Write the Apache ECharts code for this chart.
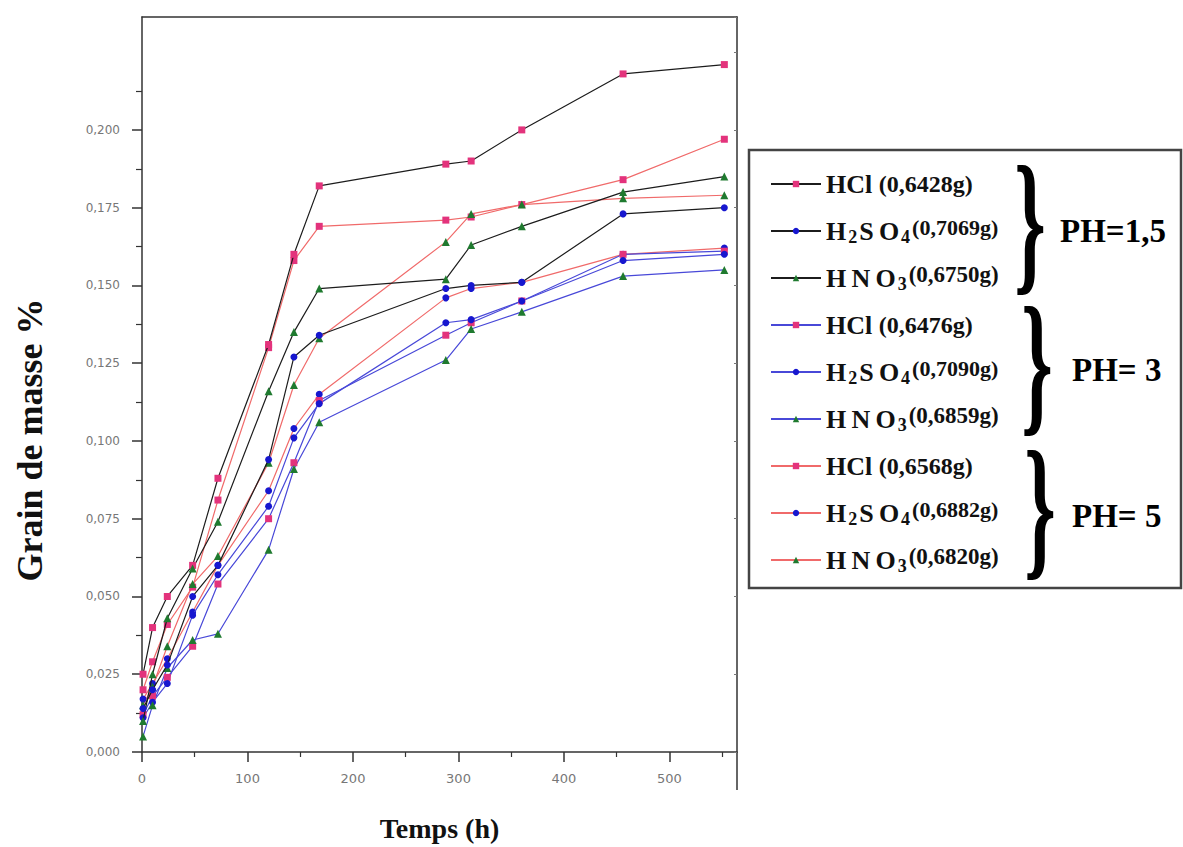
<!DOCTYPE html>
<html><head><meta charset="utf-8">
<script src="https://cdn.jsdelivr.net/npm/echarts@6/dist/echarts.min.js"></script>
<style>html,body{margin:0;padding:0;background:#fff}#c{width:1183px;height:847px}</style>
</head><body><div id="c"></div>
<script>
// time points (h)
const times = [1, 10, 24, 48, 72, 120, 144, 168, 288, 312, 360, 456, 552];
// pH = 1,5
const hcl15   = [0.025, 0.040, 0.050, 0.060, 0.088, 0.131, 0.160, 0.182, 0.189, 0.190, 0.200, 0.218, 0.221];
const h2so415 = [0.014, 0.020, 0.028, 0.050, 0.060, 0.094, 0.127, 0.134, 0.149, 0.150, 0.151, 0.173, 0.175];
const hno315  = [0.010, 0.025, 0.043, 0.059, 0.074, 0.116, 0.135, 0.149, 0.152, 0.163, 0.169, 0.180, 0.185];
// pH = 3
const hcl3    = [0.012, 0.018, 0.024, 0.034, 0.054, 0.075, 0.093, 0.113, 0.134, 0.138, 0.145, 0.160, 0.161];
const h2so43  = [0.011, 0.016, 0.022, 0.044, 0.057, 0.079, 0.101, 0.112, 0.138, 0.139, 0.145, 0.158, 0.160];
const hno33   = [0.005, 0.015, 0.027, 0.036, 0.038, 0.065, 0.091, 0.106, 0.126, 0.136, 0.1415, 0.153, 0.155];
// pH = 5
const hcl5    = [0.020, 0.029, 0.041, 0.053, 0.081, 0.130, 0.158, 0.169, 0.171, 0.172, 0.176, 0.184, 0.197];
const h2so45  = [0.017, 0.022, 0.030, 0.045, 0.060, 0.084, 0.104, 0.115, 0.146, 0.149, 0.151, 0.160, 0.162];
const hno35   = [0.015, 0.021, 0.034, 0.054, 0.063, 0.093, 0.118, 0.133, 0.164, 0.173, 0.176, 0.178, 0.179];

const acids  = ['HCl', 'H2SO4', 'HNO3'];
const masses = ['0,6428g', '0,7069g', '0,6750g', '0,6476g', '0,7090g', '0,6859g', '0,6568g', '0,6882g', '0,6820g'];
const phLabels = ['PH=1,5', 'PH= 3', 'PH= 5'];
// tick labels
const xTicks = [0, 100, 200, 300, 400, 500];
const xMinorTicks = [50, 150, 250, 350, 450, 550];
const yTicks = [0, 0.025, 0.05, 0.075, 0.1, 0.125, 0.15, 0.175, 0.2];
const yMinorTicks = [0.0125, 0.0375, 0.0625, 0.0875, 0.1125, 0.1375, 0.1625, 0.1875, 0.2125];

const allData = [hcl15, h2so415, hno315, hcl3, h2so43, hno33, hcl5, h2so45, hno35];

const LINE_COLORS = ['#1c1c1c', '#4848d8', '#f06a6a'];
const MARKER = {
  'HCl':   { symbol: 'rect',     size: 7, color: '#e3337c' },
  'H2SO4': { symbol: 'circle',   size: 7, color: '#1717cf' },
  'HNO3':  { symbol: 'triangle', size: 8, color: '#1f7a2f' }
};

const SERIF = '"Liberation Serif", "Times New Roman", serif';
const SANS = '"DejaVu Sans", Arial, sans-serif';
const names = [];
const info = {};
const series = allData.map((vals, k) => {
  const acid = acids[k % 3];
  const grp = Math.floor(k / 3);
  const mass = masses[k];
  const name = acid + ' (' + mass + ')';
  names.push(name);
  info[name] = { acid, mass };
  const m = MARKER[acid];
  return {
    name, type: 'line',
    data: times.map((t, i) => [t, vals[i]]),
    symbol: m.symbol, symbolSize: m.size,
    showAllSymbol: true,
    lineStyle: { color: LINE_COLORS[grp], width: 1.2 },
    itemStyle: { color: m.color },
    emphasis: { disabled: true },
    z: 3 + (2 - grp)
  };
});

const TS = '\u2009';
function legendFmt(name) {
  const { acid, mass } = info[name];
  if (acid === 'HCl') return '{b|HCl} {p|(' + mass + ')}';
  if (acid === 'H2SO4') return '{b|H}{sub|2}{b|S' + TS + 'O}{sub|4}{sup|(' + mass + ')}';
  return '{b|H' + TS + 'N' + TS + 'O}{sub|3}{p2|(' + mass + ')}';
}

const chart = echarts.init(document.getElementById('c'), null, { renderer: 'svg' });

const axisColor = '#333';
const yFmt = v => v.toFixed(3).replace('.', ',');
const xFmt = v => String(Math.round(v));

const braceStyle = { font: 'bold 80px ' + SERIF, fill: '#000', textAlign: 'center', textVerticalAlign: 'middle' };
const phStyle = { font: 'bold 33px ' + SERIF, fill: '#000', textAlign: 'left', textVerticalAlign: 'middle' };
const XMAX = 564, YMAX = 0.2363;

chart.setOption({
  animation: false,
  backgroundColor: '#fff',
  grid: { left: 142, top: 17, right: 446, bottom: 95, containLabel: false },
  xAxis: [{
    type: 'value', min: 0, max: XMAX, interval: 100, position: 'bottom',
    name: 'Temps (h)', nameLocation: 'middle', nameGap: 62,
    nameTextStyle: { fontFamily: SERIF, fontWeight: 'bold', fontSize: 28, color: '#111' },
    axisLine: { show: true, onZero: false, lineStyle: { color: axisColor, width: 1.5 } },
    axisTick: { show: true, length: 10, inside: false, customValues: xTicks, lineStyle: { color: axisColor, width: 1.5 } },
    axisLabel: { customValues: xTicks, formatter: xFmt, margin: 20, fontSize: 13, color: '#777', fontFamily: SANS },
    splitLine: { show: false }
  }, {
    type: 'value', min: 0, max: XMAX, position: 'bottom',
    axisLine: { show: false, onZero: false },
    axisTick: { show: true, length: 5, inside: false, customValues: xMinorTicks, lineStyle: { color: axisColor, width: 1.2 } },
    axisLabel: { show: false }, splitLine: { show: false }
  }, {
    type: 'value', min: 0, max: XMAX, position: 'top',
    axisLine: { show: true, onZero: false, lineStyle: { color: axisColor, width: 1.5 } },
    axisTick: { show: false }, axisLabel: { show: false }, splitLine: { show: false }
  }],
  yAxis: [{
    type: 'value', min: 0, max: YMAX, interval: 0.025, position: 'left',
    axisLine: { show: true, onZero: false, lineStyle: { color: axisColor, width: 1.5 } },
    axisTick: { show: true, length: 10, inside: false, customValues: yTicks, lineStyle: { color: axisColor, width: 1.5 } },
    axisLabel: { customValues: yTicks, formatter: yFmt, margin: 22, fontSize: 12, color: '#777', fontFamily: SANS },
    splitLine: { show: false }
  }, {
    type: 'value', min: 0, max: YMAX, position: 'left',
    axisLine: { show: false, onZero: false },
    axisTick: { show: true, length: 6, inside: false, customValues: yMinorTicks, lineStyle: { color: axisColor, width: 1.2 } },
    axisLabel: { show: false }, splitLine: { show: false }
  }, {
    type: 'value', min: 0, max: YMAX, interval: 0.025, position: 'right',
    axisLine: { show: true, onZero: false, lineStyle: { color: axisColor, width: 1.5 } },
    axisTick: { show: true, inside: true, length: 3, lineStyle: { color: '#777', width: 1 } },
    axisLabel: { show: false }, splitLine: { show: false }
  }],
  legend: {
    orient: 'vertical', left: 765, top: 164,
    itemWidth: 50, itemHeight: 8, itemGap: 17,
    selectedMode: false,
    data: names,
    formatter: legendFmt,
    textStyle: {
      color: '#111', fontFamily: SERIF, fontWeight: 'bold', fontSize: 26, lineHeight: 30,
      rich: {
        b:   { fontFamily: SERIF, fontWeight: 'bold', fontSize: 26, lineHeight: 30, color: '#111' },
        p:   { fontFamily: SERIF, fontWeight: 'bold', fontSize: 24, lineHeight: 30, color: '#111' },
        p2:  { fontFamily: SERIF, fontWeight: 'bold', fontSize: 23, lineHeight: 25, verticalAlign: 'top', color: '#111' },
        sub: { fontFamily: SERIF, fontWeight: 'bold', fontSize: 18, lineHeight: 17, verticalAlign: 'bottom', color: '#111', padding: [0, 2, 0, 2] },
        sup: { fontFamily: SERIF, fontWeight: 'bold', fontSize: 22, lineHeight: 21, verticalAlign: 'top', color: '#111' }
      }
    }
  },
  graphic: { elements: [
    { type: 'rect', shape: { x: 749, y: 150, width: 432, height: 438 }, style: { fill: 'none', stroke: '#444', lineWidth: 2.5 }, z: 1 },
    { type: 'line', shape: { x1: 737, y1: 752, x2: 737, y2: 790 }, style: { stroke: axisColor, lineWidth: 1.5 } },
    { type: 'text', x: 30, y: 440, rotation: Math.PI / 2, style: { text: 'Grain de masse %', font: 'bold 36px ' + SERIF, fill: '#111', textAlign: 'center', textVerticalAlign: 'middle' } },
    { type: 'text', x: 1030, y: 222, scaleY: 1.95, style: Object.assign({ text: '}' }, braceStyle) },
    { type: 'text', x: 1037, y: 363, scaleY: 1.95, style: Object.assign({ text: '}' }, braceStyle) },
    { type: 'text', x: 1040, y: 507, scaleY: 1.95, style: Object.assign({ text: '}' }, braceStyle) },
    { type: 'text', x: 1060, y: 231, style: Object.assign({ text: phLabels[0] }, phStyle) },
    { type: 'text', x: 1072, y: 370, style: Object.assign({ text: phLabels[1] }, phStyle) },
    { type: 'text', x: 1072, y: 516, style: Object.assign({ text: phLabels[2] }, phStyle) }
  ] },
  series
});
</script>
</body></html>
